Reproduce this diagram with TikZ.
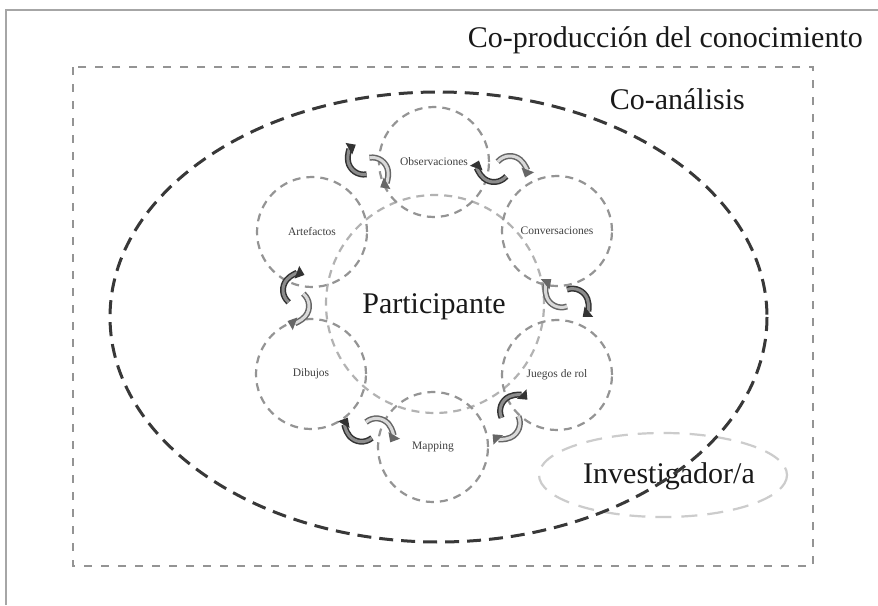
\documentclass[tikz,border=0pt]{standalone}
\usepackage{fontspec}
\setmainfont{Liberation Serif}
\usetikzlibrary{arrows.meta}
\tikzset{
  frame/.style={draw=black!35, line width=2pt},
  dashrect/.style={draw=black!42, line width=2.2pt, dash pattern=on 8pt off 9pt},
  darkell/.style={draw=black!78, line width=3pt, dash pattern=on 14pt off 8pt},
  invell/.style={draw=black!20, line width=2.2pt, dash pattern=on 16pt off 10pt},
  smallc/.style={circle, draw=black!42, line width=2.2pt, dash pattern=on 8pt off 6pt,
    minimum size=110pt, inner sep=0pt, font=\fontsize{11.5}{13}\selectfont, text=black!75},
  bigc/.style={circle, draw=black!30, line width=2.2pt, dash pattern=on 8pt off 6pt,
    minimum size=218pt, inner sep=0pt},
  bigtxt/.style={font=\fontsize{30}{36}\selectfont, text=black!90, inner sep=0pt},
  arrdark/.style={draw=black!80, double=black!45, double distance=3pt, line width=1.5pt,
    -{Triangle[length=8pt,width=13pt]}},
  arrlight/.style={draw=black!60, double=black!15, double distance=3pt, line width=1.5pt,
    -{Triangle[length=8pt,width=13pt]}},
}
\newcommand\cycpair[5]{%
  \begin{scope}[shift={(#1,#2)}, x=1pt, y=1pt, rotate=#3]
    \draw[#4] ([shift={(-40:16)}]-8,3) arc[start angle=-40, end angle=-200, radius=16];
    \draw[#5] ([shift={(140:16)}]8,-3) arc[start angle=140, end angle=-20, radius=16];
  \end{scope}}
\begin{document}
\begin{tikzpicture}[x=1pt, y=-1pt]
\useasboundingbox (0,0) rectangle (878,605);
\fill[white] (0,0) rectangle (878,605);
\draw[frame] (6,605) -- (6,10) -- (878,10);
\draw[dashrect] (73,67) rectangle (813,566);

\node[bigc] (part) at (435,304) {};
\node[smallc] (obs) at (434,162) {Observaciones};
\node[smallc] (art) at (312,232) {Artefactos};
\node[smallc] (conv) at (557,231) {Conversaciones};
\node[smallc] (dib) at (311,374) {Dibujos};
\node[smallc] (jue) at (557,375) {Juegos de rol};
\node[smallc] (map) at (433,447) {Mapping};

\node[bigtxt, anchor=base] (ptxt) at (434,313) {Participante};
\node[bigtxt, anchor=base east] (cop) at (863,47) {Co-producción del conocimiento};
\node[bigtxt, anchor=base east] (coa) at (745,109) {Co-análisis};

\draw[invell] (663,475) ellipse [x radius=124, y radius=42];
\node[bigtxt, anchor=base] (inv) at (669,483) {Investigador/a};
\draw[darkell] (438.5,317) ellipse [x radius=328.5, y radius=225];

\cycpair{368}{166}{-40}{arrdark}{arrlight}
\cycpair{502}{169}{0}{arrdark}{arrlight}
\cycpair{567}{298}{-30}{arrlight}{arrdark}
\cycpair{510}{417}{-115}{arrdark}{arrlight}
\cycpair{369}{430}{-10}{arrdark}{arrlight}
\cycpair{296}{298}{-90}{arrdark}{arrlight}
\end{tikzpicture}
\end{document}
